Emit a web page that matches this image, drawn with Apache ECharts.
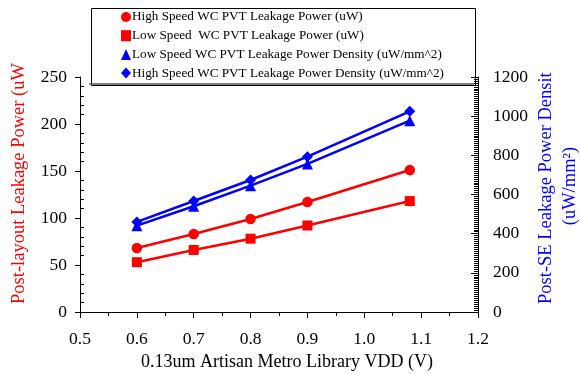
<!DOCTYPE html>
<html><head><meta charset="utf-8">
<script src="https://cdn.jsdelivr.net/npm/echarts@6/dist/echarts.min.js"></script>
<style>html,body{margin:0;padding:0;background:#fff}#c{width:580px;height:374px}</style>
</head><body><div id="c"></div>
<script>
var vdd = [0.6, 0.7, 0.8, 0.9, 1.08];
var hsPower = [68, 83, 99, 117, 151];
var lsPower = [53, 66, 78, 92, 118];
var lsDensity = [441, 540, 645, 756, 977];
var hsDensity = [460, 567, 674, 793, 1025];
var seriesNames = [
  'High Speed WC PVT Leakage Power (uW)',
  'Low Speed  WC PVT Leakage Power (uW)',
  'Low Speed WC PVT Leakage Power Density (uW/mm^2)',
  'High Speed WC PVT Leakage Power Density (uW/mm^2)'
];
var xTitle = '0.13um Artisan Metro Library VDD (V)';
var leftTitle = 'Post-layout Leakage Power (uW';
var rightTitle1 = 'Post-SE Leakage Power Densit';
var rightTitle2 = '(uW/mm²)';

function pairs(ys){ return vdd.map(function(x,i){ return [x, ys[i]]; }); }
var FONT = '"Liberation Serif","Times New Roman",serif';
var RED = '#ff0000', BLUE = '#0000ff';

var chart = echarts.init(document.getElementById('c'));
function mk(name, data, color, sym, size, yi){
  return {name:name, type:'line', yAxisIndex:yi, data:pairs(data), symbol:sym, symbolSize:size,
    lineStyle:{color:color,width:2.5}, itemStyle:{color:color}, showSymbol:true, animation:false, z:3};
}
chart.setOption({
  animation:false,
  grid:{left:80,right:102,top:77,bottom:62},
  legend:{orient:'vertical', left:121, top:10, padding:0, itemWidth:10, itemHeight:11, itemGap:4.7,
    textStyle:{fontFamily:FONT,fontSize:13.2,lineHeight:14,color:'#000',padding:[0,0,0,-4]},
    data:[{name:seriesNames[0],icon:'circle'},{name:seriesNames[1],icon:'rect'},
          {name:seriesNames[2],icon:'triangle'},{name:seriesNames[3],icon:'diamond'}]},
  xAxis:{type:'value',min:0.5,max:1.2,interval:0.1,
    axisLine:{show:true,lineStyle:{color:'#000',width:1}},
    axisTick:{show:true,length:6,lineStyle:{color:'#000'}},
    minorTick:{show:true,splitNumber:2,length:4,lineStyle:{color:'#000'}},
    splitLine:{show:false},
    axisLabel:{margin:18,fontFamily:FONT,fontSize:17.5,color:'#000',formatter:function(v){return v.toFixed(1);}}},
  yAxis:[
    {type:'value',position:'left',min:0,max:250,interval:50,
     axisLine:{show:true,lineStyle:{color:'#000'}},
     axisTick:{show:true,length:5,lineStyle:{color:'#000',width:1}},
     splitLine:{show:false},
     axisLabel:{margin:13,fontFamily:FONT,fontSize:17.5,color:'#000'}},
    {type:'value',position:'right',min:0,max:1200,interval:200,
     axisLine:{show:true,lineStyle:{color:'#000'}},
     axisTick:{show:true,inside:true,length:7,lineStyle:{color:'#000',width:1}},
     minorTick:{show:true,splitNumber:20,length:4,lineStyle:{color:'#000',width:1}},
     splitLine:{show:false},
     axisLabel:{margin:15,fontFamily:FONT,fontSize:17.5,color:'#000',formatter:function(v){return String(v);}}},
    {type:'value',position:'left',min:0,max:250,interval:50,
     axisLine:{show:false},axisLabel:{show:false},splitLine:{show:false},
     axisTick:{show:false,inside:true},
     minorTick:{show:true,splitNumber:5,length:4,lineStyle:{color:'#000',width:1}}}
  ],
  series:[
    mk(seriesNames[0],hsPower,RED,'circle',10.5,0),
    mk(seriesNames[1],lsPower,RED,'rect',10,0),
    mk(seriesNames[2],lsDensity,BLUE,'triangle',11,1),
    mk(seriesNames[3],hsDensity,BLUE,'diamond',11,1)
  ],
  graphic:[
    {type:'rect',left:89,top:6,shape:{width:384,height:77},style:{fill:'none',stroke:'#000',lineWidth:1},z:1},
    {type:'line',shape:{x1:89,y1:84,x2:474,y2:84},style:{stroke:'#555',lineWidth:1.5},z:1},
    {type:'text',x:287,y:362,style:{text:xTitle,fontFamily:FONT,fontSize:18,fill:'#000',align:'center',verticalAlign:'middle'}},
    {type:'text',x:19,y:304,rotation:Math.PI/2,style:{text:leftTitle,fontFamily:FONT,fontSize:18.5,fill:RED,align:'left',verticalAlign:'middle'}},
    {type:'text',x:546,y:304,rotation:Math.PI/2,style:{text:rightTitle1,fontFamily:FONT,fontSize:18.5,fill:BLUE,align:'left',verticalAlign:'middle'}},
    {type:'text',x:570,y:186,rotation:Math.PI/2,style:{text:rightTitle2,fontFamily:FONT,fontSize:18.5,fill:BLUE,align:'center',verticalAlign:'middle'}}
  ]
});
</script></body></html>
